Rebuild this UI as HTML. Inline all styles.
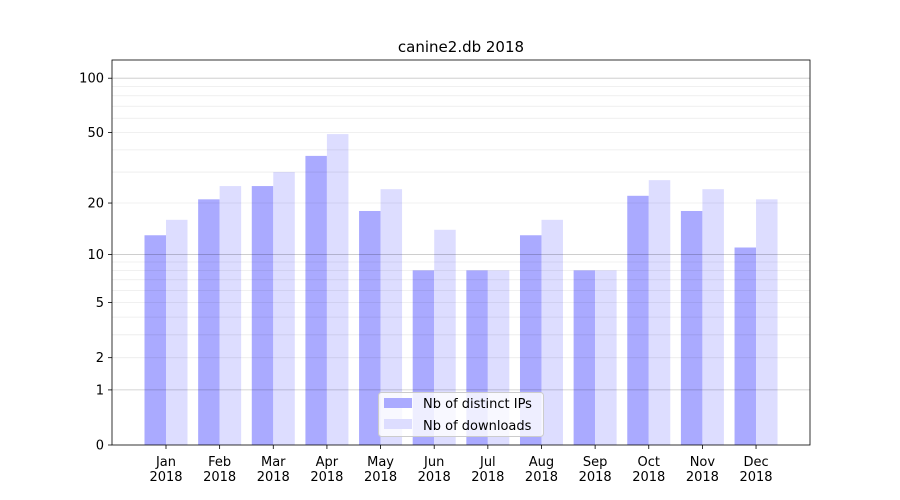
<!DOCTYPE html>
<html><head><meta charset="utf-8"><style>body{margin:0;background:#fff}svg{display:block;font-family:"DejaVu Sans","Liberation Sans",sans-serif}</style></head>
<body>
<svg id="s" width="900" height="500" xmlns="http://www.w3.org/2000/svg"></svg>
<script>
const s=document.getElementById('s');
const Y=v=>445-183*Math.log10(v+1);
let h='<rect width="900" height="500" fill="#fff"/>';
const ip=[13,21,25,37,18,8,8,13,8,22,18,11],dl=[16,25,30,49,24,14,8,16,8,27,24,21];
const m=['Jan','Feb','Mar','Apr','May','Jun','Jul','Aug','Sep','Oct','Nov','Dec'];
for(let i=0;i<12;i++){const c=166+i*53.64;
h+=`<rect x="${c-21.5}" y="${Y(ip[i])}" width="21.5" height="${445-Y(ip[i])}" fill="#aaaaff"/>`;
h+=`<rect x="${c}" y="${Y(dl[i])}" width="21.5" height="${445-Y(dl[i])}" fill="#ddddff"/>`;
h+=`<line x1="${c}" x2="${c}" y1="445" y2="449" stroke="#000" stroke-width="0.8"/>`;
h+=`<text x="${c}" y="466" font-size="13" text-anchor="middle">${m[i]}</text><text x="${c}" y="481" font-size="13" text-anchor="middle">2018</text>`;}
for(const d of [1,10]){for(let k=2;k<=9;k++){const v=k*d;h+=`<line x1="112" x2="810" y1="${Y(v)}" y2="${Y(v)}" stroke="#000" stroke-opacity="0.08" stroke-width="0.8"/>`;}}
for(const v of [1,10,100])h+=`<line x1="112" x2="810" y1="${Y(v)}" y2="${Y(v)}" stroke="#000" stroke-opacity="0.22" stroke-width="0.8"/>`;
for(const v of [0,1,2,5,10,20,50,100]){const y=Y(v);h+=`<line x1="108" x2="112" y1="${y}" y2="${y}" stroke="#000" stroke-width="0.8"/><text x="104" y="${y+4.5}" font-size="13" text-anchor="end">${v}</text>`;}
h+=`<rect x="112" y="60" width="698" height="385" fill="none" stroke="#000" stroke-width="0.8"/>`;
h+=`<text x="461" y="52" font-size="15" text-anchor="middle">canine2.db 2018</text>`;
h+=`<rect x="378.5" y="392.5" width="165" height="44" rx="3" fill="#fff" fill-opacity="0.8" stroke="#ccc"/>`;
h+=`<rect x="384" y="398" width="28" height="10" fill="#aaaaff"/><text x="423" y="408" font-size="13">Nb of distinct IPs</text>`;
h+=`<rect x="384" y="419" width="28" height="10" fill="#ddddff"/><text x="423" y="430" font-size="13">Nb of downloads</text>`;
s.innerHTML=h;
</script>
</body></html>
